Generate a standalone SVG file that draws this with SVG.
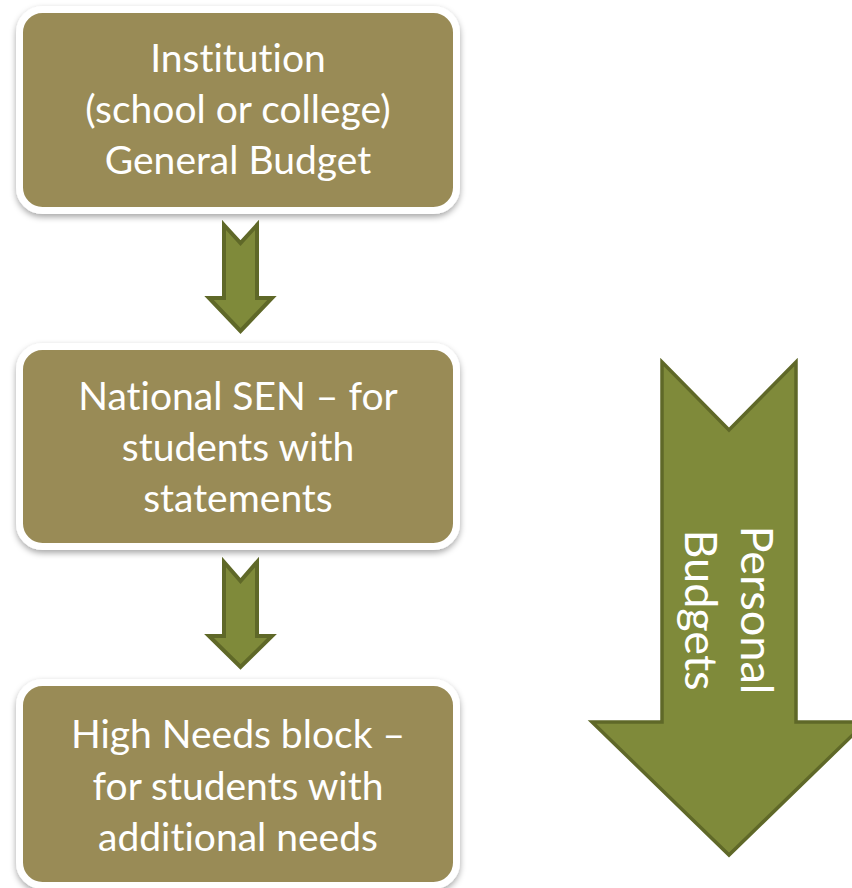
<svg xmlns="http://www.w3.org/2000/svg" width="852" height="888" viewBox="0 0 852 888">
<defs>
<style>
.box{fill:#998b56;stroke:#ffffff;stroke-width:7;filter:url(#sh)}
.t{font-family:Lato,"Open Sans",sans-serif;font-size:39px;fill:#ffffff;text-anchor:middle;font-variant-ligatures:none}
.v{font-size:45px}
.arr{fill:#7f8a3a;stroke:#5f6828;stroke-linejoin:miter}
</style>
<filter id="sh" x="-10%" y="-10%" width="120%" height="130%">
<feDropShadow dx="0" dy="3" stdDeviation="3" flood-color="#000" flood-opacity="0.35"/>
</filter>
</defs>
<rect width="852" height="888" fill="#ffffff"/>
<g id="node-institution">
<rect class="box" x="19.5" y="9.5" width="437" height="201" rx="23"/>
<text class="t" x="238" y="72">Institution</text>
<text class="t" x="238" y="123">(school or college)</text>
<text class="t" x="238" y="174">General Budget</text>
</g>
<g id="node-national-sen">
<rect class="box" x="19.5" y="346.5" width="437" height="200" rx="23"/>
<text class="t" x="238" y="410">National SEN – for</text>
<text class="t" x="238" y="461">students with</text>
<text class="t" x="238" y="512">statements</text>
</g>
<g id="node-high-needs">
<rect class="box" x="19.5" y="682.5" width="437" height="203" rx="23"/>
<text class="t" x="238" y="748">High Needs block –</text>
<text class="t" x="238" y="800">for students with</text>
<text class="t" x="238" y="851">additional needs</text>
</g>
<g id="connectors">
<path class="arr" stroke-width="4" d="M224,225 L240.5,243 L257,225 L257,298 L272,298 L240.5,331 L209,298 L224,298 Z"/>
<path class="arr" stroke-width="4" d="M224,562 L240.5,581 L257,562 L257,636 L272,636 L240.5,667 L209,636 L224,636 Z"/>
</g>
<g id="node-personal-budgets">
<path class="arr" stroke-width="3.5" d="M662,362 L729,430 L796,362 L796,722 L866,722 L729,855 L592,722 L662,722 Z"/>
<g transform="translate(729,610) rotate(90)">
<text class="t v" x="0" y="-12">Personal</text>
<text class="t v" x="0" y="44">Budgets</text>
</g>
</g>
</svg>
